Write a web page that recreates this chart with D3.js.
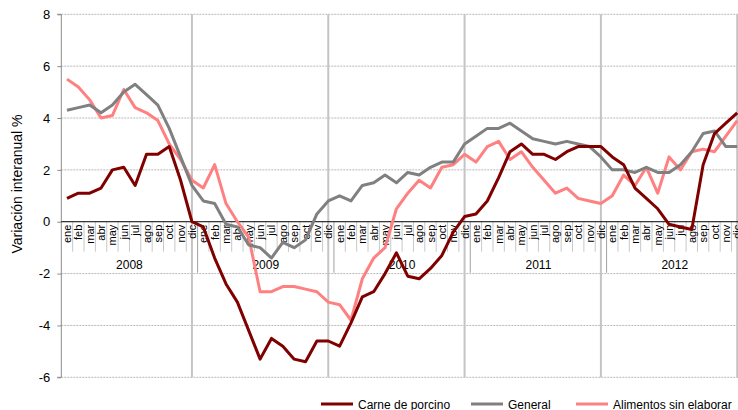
<!DOCTYPE html>
<html>
<head>
<meta charset="utf-8">
<script src="https://cdn.jsdelivr.net/npm/d3@7"></script>
<style>
    body { margin: 0; background: #fff; }
    svg { display: block; font-family: "Liberation Sans", Arial, sans-serif; }
</style>
</head>
<body>
<svg id="chart" width="738" height="410"></svg>
<script>
// Variación interanual (%) por mes, 2008-2012
var years = ['2008', '2009', '2010', '2011', '2012'];
var months = ['ene', 'feb', 'mar', 'abr', 'may', 'jun', 'jul', 'ago', 'sep', 'oct', 'nov', 'dic'];
var yTicks = [-6, -4, -2, 0, 2, 4, 6, 8];

var carne = [
    0.9, 1.1, 1.1, 1.3, 2.0, 2.1, 1.4, 2.6, 2.6, 2.9, 1.6, 0.0,
    -0.2, -1.4, -2.4, -3.1, -4.2, -5.3, -4.5, -4.8, -5.3, -5.4, -4.6, -4.6,
    -4.8, -3.9, -2.9, -2.7, -2.0, -1.2, -2.1, -2.2, -1.8, -1.3, -0.4, 0.2,
    0.3, 0.8, 1.7, 2.7, 3.0, 2.6, 2.6, 2.4, 2.7, 2.9, 2.9, 2.9,
    2.5, 2.2, 1.3, 0.9, 0.5, -0.1, -0.2, -0.3, 2.2, 3.4, 3.8, 4.2
];
var general = [
    4.3, 4.4, 4.5, 4.2, 4.5, 5.0, 5.3, 4.9, 4.5, 3.6, 2.5, 1.4,
    0.8, 0.7, -0.1, -0.2, -0.9, -1.0, -1.4, -0.8, -1.0, -0.7, 0.3, 0.8,
    1.0, 0.8, 1.4, 1.5, 1.8, 1.5, 1.9, 1.8, 2.1, 2.3, 2.3, 3.0,
    3.3, 3.6, 3.6, 3.8, 3.5, 3.2, 3.1, 3.0, 3.1, 3.0, 2.9, 2.5,
    2.0, 2.0, 1.9, 2.1, 1.9, 1.9, 2.2, 2.7, 3.4, 3.5, 2.9, 2.9
];
var alimentos = [
    5.5, 5.2, 4.7, 4.0, 4.1, 5.1, 4.4, 4.2, 3.9, 3.0, 2.4, 1.6,
    1.3, 2.2, 0.7, 0.0, -0.6, -2.7, -2.7, -2.5, -2.5, -2.6, -2.7, -3.1,
    -3.2, -3.8, -2.2, -1.4, -1.0, 0.5, 1.1, 1.6, 1.3, 2.1, 2.2, 2.6,
    2.3, 2.9, 3.1, 2.4, 2.7, 2.1, 1.6, 1.1, 1.3, 0.9, 0.8, 0.7,
    1.0, 1.8, 1.4, 2.1, 1.1, 2.5, 2.0, 2.7, 2.8, 2.7, 3.3, 3.9
];

var series = [
    {name: 'Carne de porcino', values: carne, color: '#800000'},
    {name: 'General', values: general, color: '#808080'},
    {name: 'Alimentos sin elaborar', values: alimentos, color: '#ff8080'}
];

var LEFT = 61.3,
    STEP = 11.36,
    TOP = 14.3,
    BOTTOM = 377.3;

var svg = d3.select('#chart');
var n = years.length * months.length;

var x = d3.scaleBand()
    .domain(d3.range(n))
    .range([LEFT, LEFT + n * STEP]);
var cx = function(i) { return x(i) + x.bandwidth() / 2; };

var y = d3.scaleLinear()
    .domain([-6, 8])
    .range([BOTTOM, TOP]);

// horizontal gridlines
svg.append('g')
    .selectAll('line')
    .data(yTicks.filter(d => d !== 0))
    .join('line')
    .attr('x1', LEFT)
    .attr('x2', 738)
    .attr('y1', d => y(d))
    .attr('y2', d => y(d))
    .attr('stroke', '#b8b8b8')
    .attr('stroke-dasharray', '2,1');

// vertical gridlines (on each december)
svg.append('g')
    .selectAll('line')
    .data(years.map((d, k) => k * 12 + 11))
    .join('line')
    .attr('x1', d => cx(d))
    .attr('x2', d => cx(d))
    .attr('y1', TOP)
    .attr('y2', BOTTOM)
    .attr('stroke', '#c4c4c4')
    .attr('stroke-width', 2);

// y axis
var yAxis = svg.append('g')
    .attr('transform', `translate(${LEFT},0)`)
    .call(d3.axisLeft(y).tickValues(yTicks).tickSize(4).tickPadding(7).tickFormat(d => String(d)));
yAxis.select('.domain').attr('stroke', '#8c8c8c').attr('d', `M-4,${TOP}H0V${BOTTOM}H-4`);
yAxis.selectAll('.tick line').attr('stroke', '#8c8c8c');
yAxis.selectAll('.tick text')
    .attr('font-size', 13)
    .attr('fill', '#000')
    .attr('font-family', '"Liberation Sans", Arial, sans-serif');

svg.append('text')
    .attr('transform', 'translate(22,184) rotate(-90)')
    .attr('text-anchor', 'middle')
    .attr('font-size', 14)
    .text('Variación interanual %');

// category axis at zero
var y0 = y(0);
var cat = svg.append('g');

cat.selectAll('line.sep')
    .data(d3.range(1, n))
    .join('line')
    .attr('class', 'sep')
    .attr('x1', d => x(d))
    .attr('x2', d => x(d))
    .attr('y1', y0)
    .attr('y2', d => d % 12 === 0 ? y0 + 51 : y0 + 30)
    .attr('stroke', d => d % 12 === 0 ? '#a0a0a0' : '#c8c8c8')
    .attr('stroke-width', 1);

cat.selectAll('text.month')
    .data(d3.range(n))
    .join('text')
    .attr('class', 'month')
    .attr('transform', d => `translate(${cx(d) + 4},${y0 + 3}) rotate(-90)`)
    .attr('text-anchor', 'end')
    .attr('font-size', 11)
    .text(d => months[d % 12]);

cat.selectAll('text.year')
    .data(years)
    .join('text')
    .attr('class', 'year')
    .attr('x', (d, k) => (x(k * 12) + x(k * 12 + 11) + x.bandwidth()) / 2)
    .attr('y', y0 + 47)
    .attr('text-anchor', 'middle')
    .attr('font-size', 12)
    .text(d => d);

svg.append('line')
    .attr('x1', LEFT)
    .attr('x2', 738)
    .attr('y1', y0)
    .attr('y2', y0)
    .attr('stroke', '#000');

// lines
var line = d3.line()
    .x((d, i) => cx(i))
    .y(d => y(d));

svg.append('g')
    .selectAll('path')
    .data(series.slice().reverse())
    .join('path')
    .attr('d', d => line(d.values))
    .attr('fill', 'none')
    .attr('stroke', d => d.color)
    .attr('stroke-width', 3)
    .attr('stroke-linejoin', 'round');

// legend
var legendX = [321, 471, 576];
var legend = svg.append('g')
    .selectAll('g')
    .data(series)
    .join('g')
    .attr('transform', (d, i) => `translate(${legendX[i]},404)`);
legend.append('line')
    .attr('x1', 0)
    .attr('x2', 32)
    .attr('stroke', d => d.color)
    .attr('stroke-width', 3);
legend.append('text')
    .attr('x', 37)
    .attr('y', 4.5)
    .attr('font-size', 12)
    .text(d => d.name);
</script>
</body>
</html>
